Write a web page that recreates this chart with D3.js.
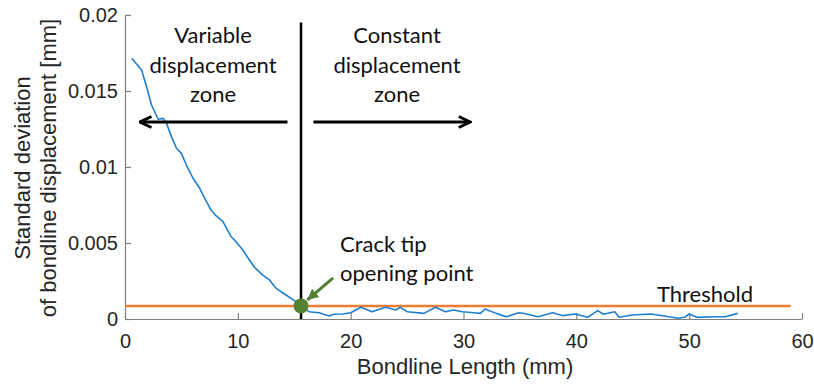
<!DOCTYPE html>
<html>
<head>
<meta charset="utf-8">
<script src="https://cdn.jsdelivr.net/npm/d3@7"></script>
<style>
  html, body { margin: 0; padding: 0; background: #fff; }
  svg { display: block; }
  .tick text { font-family: "Liberation Sans", Arial, sans-serif; font-size: 20px; fill: #262626; }
  .axis-title { font-family: "Liberation Sans", Arial, sans-serif; font-size: 22px; fill: #262626; }
  .note { font-family: Lato, "Open Sans", sans-serif; font-size: 22px; fill: #111; }
</style>
</head>
<body>
<svg id="chart" width="814" height="385"></svg>
<script>
// Bondline position (mm) and standard deviation of displacement (mm)
const positions = [0.59, 1.47, 1.91, 2.35, 2.94, 3.38, 3.68, 4.12, 4.56, 5.0, 5.44, 6.03, 6.62, 7.06, 7.62,
  8.09, 8.68, 9.41, 9.71, 10.44, 11.03, 11.47, 12.21, 12.8, 13.39, 14.27, 15.15, 15.6,
  16.3, 17.2, 18.1, 18.5, 19.3, 20.0, 20.9, 21.9, 23.1, 24.0, 24.4, 25.0, 26.5, 27.5,
  28.4, 29.1, 29.9, 30.9, 31.5, 31.9, 32.9, 33.8, 34.9, 35.4, 36.6, 37.9, 38.8, 39.9,
  41.0, 41.9, 42.4, 43.4, 43.8, 44.9, 46.6, 47.8, 49.0, 49.6, 50.0, 50.7, 52.2, 53.2, 54.3];
const stdDev = [0.01715, 0.01638, 0.01528, 0.01408, 0.01314, 0.0132, 0.01287, 0.0120, 0.01123, 0.0109,
  0.01013, 0.00926, 0.0086, 0.00795, 0.00717,
  0.00678, 0.0064, 0.00541, 0.0052, 0.00454, 0.00388, 0.0034, 0.00289, 0.00257, 0.00202, 0.00158, 0.00114, 0.00086,
  0.00048, 0.00041, 0.0002, 0.00031, 0.00033, 0.00041, 0.00077, 0.00048, 0.00077, 0.00059, 0.00077, 0.00048,
  0.00037, 0.00077, 0.00048, 0.00059, 0.00048, 0.00041, 0.00037, 0.00066, 0.00037, 0.00015, 0.00041, 0.00036,
  0.00015, 0.00041, 0.00022, 0.00033, 0.00011, 0.00055, 0.00031, 0.00048, 0.00011, 0.00026, 0.00033, 0.0002,
  0.00005, 0.00011, 0.00033, 0.00011, 0.00015, 0.00015, 0.00037];

const xTicks = [0, 10, 20, 30, 40, 50, 60];
const yTicks = [0, 0.005, 0.01, 0.015, 0.02];
const yTickLabels = ["0", "0.005", "0.01", "0.015", "0.02"];

const threshold = 0.00086;
const thresholdEnd = 59;
const crackTip = 15.6;
const zoneTop = 0.0195;
const arrowLevel = 0.01296;
const leftArrow = [14.4, 1.33];
const rightArrow = [16.7, 30.6];

const svg = d3.select("#chart");
const x = d3.scaleLinear().domain([0, 60]).range([125, 802]);
const y = d3.scaleLinear().domain([0, 0.02]).range([319, 15]);

// defs for arrowheads
const defs = svg.append("defs");
defs.append("marker")
  .attr("id", "chevron")
  .attr("viewBox", "0 0 14 14")
  .attr("refX", 12.5).attr("refY", 7)
  .attr("markerWidth", 14).attr("markerHeight", 14)
  .attr("markerUnits", "userSpaceOnUse")
  .attr("orient", "auto")
  .append("path")
  .attr("d", "M1,1.5 L12.5,7 L1,12.5")
  .attr("fill", "none").attr("stroke", "#000").attr("stroke-width", 3)
  .attr("stroke-linejoin", "miter");
defs.append("marker")
  .attr("id", "greenhead")
  .attr("viewBox", "0 0 12 12")
  .attr("refX", 11).attr("refY", 6)
  .attr("markerWidth", 12).attr("markerHeight", 12)
  .attr("markerUnits", "userSpaceOnUse")
  .attr("orient", "auto")
  .append("path")
  .attr("d", "M0,0.5 L11,6 L0,11.5 Z")
  .attr("fill", "#548235");

// axes
const xAxis = d3.axisBottom(x).tickValues(xTicks).tickSizeInner(-6).tickSizeOuter(0).tickPadding(15);
const yAxis = d3.axisLeft(y).tickValues(yTicks).tickFormat((d, i) => yTickLabels[i])
  .tickSizeInner(-6).tickSizeOuter(0).tickPadding(7);

const gx = svg.append("g").attr("transform", `translate(0,${y(0)})`).call(xAxis);
const gy = svg.append("g").attr("transform", `translate(${x(0)},0)`).call(yAxis);
[gx, gy].forEach(g => {
  g.select(".domain").attr("stroke", "#808080").attr("stroke-width", 1.2);
  g.selectAll(".tick line").attr("stroke", "#808080").attr("stroke-width", 1.2);
});

// axis titles
svg.append("text").attr("class", "axis-title")
  .attr("x", 465).attr("y", 374).attr("text-anchor", "middle")
  .text("Bondline Length (mm)");
const yt = svg.append("text").attr("class", "axis-title")
  .attr("transform", "translate(30,168) rotate(-90)").attr("text-anchor", "middle");
yt.append("tspan").attr("x", 0).attr("y", 0).text("Standard deviation");
yt.append("tspan").attr("x", 0).attr("y", 26).text("of bondline displacement [mm]");

// threshold line
svg.append("line")
  .attr("x1", x(0)).attr("x2", x(thresholdEnd))
  .attr("y1", y(threshold)).attr("y2", y(threshold))
  .attr("stroke", "#ED7D31").attr("stroke-width", 2.5);

// data curve
const line = d3.line().x(d => x(d[0])).y(d => y(d[1]));
svg.append("path")
  .datum(positions.map((p, i) => [p, stdDev[i]]))
  .attr("d", line)
  .attr("fill", "none").attr("stroke", "#1f7fcf").attr("stroke-width", 1.6)
  .attr("stroke-linejoin", "round");

// zone divider
svg.append("line")
  .attr("x1", x(crackTip)).attr("x2", x(crackTip))
  .attr("y1", y(zoneTop)).attr("y2", y(0))
  .attr("stroke", "#000").attr("stroke-width", 2.5);

// zone arrows
svg.append("line")
  .attr("x1", x(leftArrow[0])).attr("x2", x(leftArrow[1]))
  .attr("y1", y(arrowLevel)).attr("y2", y(arrowLevel))
  .attr("stroke", "#000").attr("stroke-width", 3).attr("marker-end", "url(#chevron)");
svg.append("line")
  .attr("x1", x(rightArrow[0])).attr("x2", x(rightArrow[1]))
  .attr("y1", y(arrowLevel)).attr("y2", y(arrowLevel))
  .attr("stroke", "#000").attr("stroke-width", 3).attr("marker-end", "url(#chevron)");

// crack tip point
svg.append("circle")
  .attr("cx", x(crackTip)).attr("cy", y(threshold)).attr("r", 7.5)
  .attr("fill", "#548235");
svg.append("line")
  .attr("x1", x(18.45)).attr("y1", y(0.0027))
  .attr("x2", x(16.15)).attr("y2", y(0.00125))
  .attr("stroke", "#548235").attr("stroke-width", 3).attr("marker-end", "url(#greenhead)");

// annotation text
function block(cx, baselines, lines) {
  const t = svg.append("text").attr("class", "note").attr("text-anchor", "middle");
  lines.forEach((s, i) => t.append("tspan").attr("x", cx).attr("y", baselines[i]).text(s));
}
block(213, [43, 73, 102], ["Variable", "displacement", "zone"]);
block(397, [43, 73, 102], ["Constant", "displacement", "zone"]);
svg.append("text").attr("class", "note").attr("x", 340).attr("y", 252).text("Crack tip");
svg.append("text").attr("class", "note").attr("x", 340).attr("y", 281).text("opening point");
svg.append("text").attr("class", "note").attr("x", 705).attr("y", 302).attr("text-anchor", "middle").text("Threshold");
</script>
</body>
</html>
